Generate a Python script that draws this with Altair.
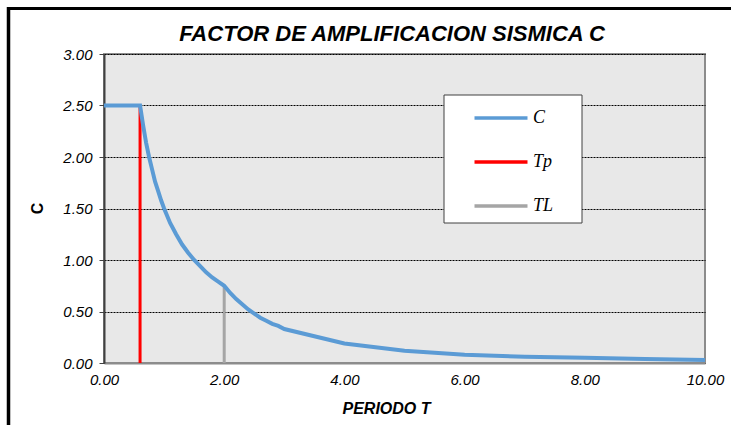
import altair as alt
import pandas as pd

# Seismic amplification factor C versus period T
periods = [0.0, 0.6, 0.65, 0.7, 0.75, 0.8, 0.85, 0.9, 0.95, 1.0, 1.1, 1.2, 1.3,
           1.4, 1.5, 1.6, 1.7, 1.8, 1.9, 2.0, 2.1, 2.2, 2.3, 2.4, 2.5, 2.6, 2.7,
           2.8, 2.9, 3.0, 4.0, 5.0, 6.0, 7.0, 8.0, 9.0, 10.0]
c_values = [2.50, 2.50, 2.31, 2.14, 2.00, 1.88, 1.76, 1.67, 1.58, 1.50, 1.36,
            1.25, 1.15, 1.07, 1.00, 0.94, 0.88, 0.83, 0.79, 0.75, 0.68, 0.62,
            0.57, 0.52, 0.48, 0.44, 0.41, 0.38, 0.36, 0.33, 0.19, 0.12, 0.08,
            0.06, 0.05, 0.04, 0.03]

# Vertical markers at Tp and TL
tp_period = [0.6, 0.6]
tp_height = [0.0, 2.5]
tl_period = [2.0, 2.0]
tl_height = [0.0, 0.75]

series_names = ["C", "Tp", "TL"]
series_colors = ["#5B9BD5", "#FF0000", "#A5A5A5"]

x_ticks = [0, 2, 4, 6, 8, 10]
y_ticks = [0, 0.5, 1.0, 1.5, 2.0, 2.5, 3.0]

TITLE = "FACTOR DE AMPLIFICACION SISMICA C"
FONT = "Liberation Sans"

curve_df = pd.DataFrame({"T": periods, "C": c_values, "serie": "C"})
tp_df = pd.DataFrame({"T": tp_period, "C": tp_height, "serie": "Tp"})
tl_df = pd.DataFrame({"T": tl_period, "C": tl_height, "serie": "TL"})
single_df = pd.DataFrame({"k": [0]})

x_enc = alt.X(
    "T:Q",
    scale=alt.Scale(domain=[0, 10], nice=False),
    axis=alt.Axis(
        values=x_ticks, format=".2f", title="PERIODO T", grid=False,
        ticks=False, labelFlush=False, labelPadding=9, labelFontSize=15,
        labelFontStyle="italic", labelFont=FONT, labelColor="#000000",
        domainColor="#8c8c8c", domainWidth=2,
        titleFont=FONT, titleFontSize=16, titleFontWeight="bold",
        titleFontStyle="italic", titleColor="#000000",
        titleX=282, titleY=45, titleAlign="center", titleBaseline="middle",
    ),
)
y_enc = alt.Y(
    "C:Q",
    scale=alt.Scale(domain=[0, 3], nice=False),
    axis=alt.Axis(
        values=y_ticks, format=".2f", title="C", grid=True,
        gridColor="#000000", gridDash=[2, 1], gridWidth=1,
        tickSize=5, tickColor="#404040", tickWidth=1,
        labelPadding=7, labelFontSize=15, labelFontStyle="italic",
        labelFont=FONT, labelColor="#000000",
        domainColor="#404040", domainWidth=2,
        titleFont=FONT, titleFontSize=16, titleFontWeight="bold",
        titleColor="#000000", titleAngle=-90,
        titleX=-67, titleY=154, titleAlign="center", titleBaseline="middle",
    ),
)
color_enc = alt.Color(
    "serie:N",
    scale=alt.Scale(domain=series_names, range=series_colors),
    legend=alt.Legend(
        title=None, orient="none", legendX=382, legendY=49,
        symbolType="M-2,0H2", symbolSize=702, symbolStrokeWidth=3.5,
        symbolOffset=0, labelOffset=17, padding=0, rowPadding=20,
        labelFont="Liberation Serif", labelFontStyle="italic",
        labelFontSize=18, labelColor="#000000",
    ),
)

# Legend frame behind the legend entries
legend_box = alt.Chart(single_df).mark_rect(
    fill="#ffffff", stroke="#404040", strokeWidth=1
).encode(x=alt.value(340), x2=alt.value(478), y=alt.value(41), y2=alt.value(169))

tp_line = alt.Chart(tp_df).mark_line(strokeWidth=3).encode(x=x_enc, y=y_enc, color=color_enc)
tl_line = alt.Chart(tl_df).mark_line(strokeWidth=3).encode(x=x_enc, y=y_enc, color=color_enc)
c_line = alt.Chart(curve_df).mark_line(strokeWidth=4).encode(x=x_enc, y=y_enc, color=color_enc)

# Outer frame edges of the chart area (top and left)
frame_top = alt.Chart(single_df).mark_rule(color="#000000", strokeWidth=3).encode(
    x=alt.value(-96), x2=alt.value(627), y=alt.value(-45.5)
)
frame_left = alt.Chart(single_df).mark_rule(color="#000000", strokeWidth=3.5).encode(
    x=alt.value(-95.5), y=alt.value(-47), y2=alt.value(372)
)

title_text = alt.Chart(single_df).mark_text(
    text=TITLE, font=FONT, fontSize=22, fontWeight="bold", fontStyle="italic",
    color="#000000", align="center", baseline="alphabetic",
).encode(x=alt.value(288), y=alt.value(-13))

chart = (
    alt.layer(legend_box, tp_line, tl_line, c_line, frame_top, frame_left, title_text)
    .properties(
        width=601, height=309,
        autosize=alt.AutoSizeParams(type="none"),
        padding={"left": 104, "top": 54, "right": 26, "bottom": 62},
        background="#ffffff",
    )
    .configure_view(fill="#e8e8e8", stroke="#8c8c8c", strokeWidth=2)
)

chart.save("out.html", embed_options={"renderer": "svg", "actions": False})
